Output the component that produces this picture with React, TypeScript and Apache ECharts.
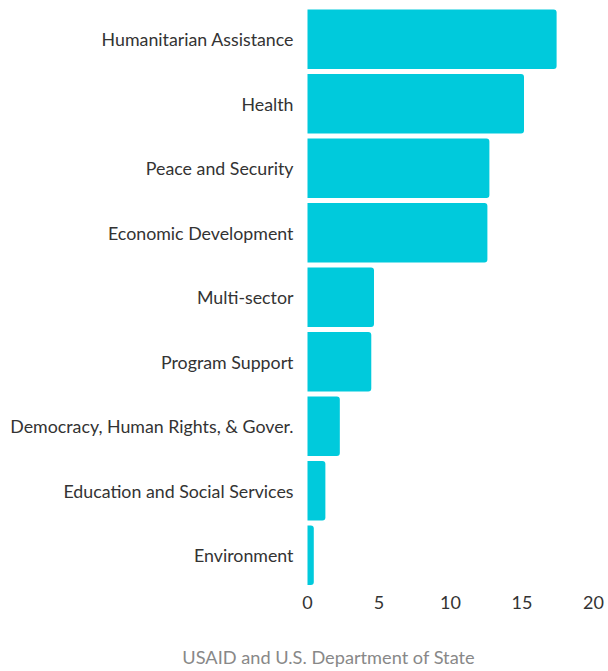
import React, { useEffect, useRef } from "react";
import * as echarts from "echarts";

const categories = [
  "Humanitarian Assistance",
  "Health",
  "Peace and Security",
  "Economic Development",
  "Multi-sector",
  "Program Support",
  "Democracy, Human Rights, & Gover.",
  "Education and Social Services",
  "Environment",
];
const values = [17.42, 15.14, 12.72, 12.58, 4.65, 4.46, 2.26, 1.25, 0.44];
const xTicks = [0, 5, 10, 15, 20];
const sourceLabel = "USAID and U.S. Department of State";

export default function App() {
  const ref = useRef<HTMLDivElement>(null);
  useEffect(() => {
    document.body.style.margin = "0";
    const chart = echarts.init(ref.current!, null, { renderer: "svg" });
    chart.setOption({
      animation: false,
      textStyle: { fontFamily: "Lato" },
      grid: { left: 307.5, right: 14.5, top: 7, bottom: 83.5, containLabel: false },
      xAxis: {
        type: "value",
        min: xTicks[0],
        max: xTicks[xTicks.length - 1],
        interval: 5,
        axisLine: { show: false },
        axisTick: { show: false },
        splitLine: { show: false },
        axisLabel: { color: "#333", fontSize: 18, margin: 5, fontFamily: "Lato" },
      },
      yAxis: {
        type: "category",
        data: categories,
        inverse: true,
        axisLine: { show: false },
        axisTick: { show: false },
        axisLabel: {
          color: "#333",
          fontSize: 17.8,
          margin: 14,
          fontFamily: "Lato",
          padding: [0, 0, 4, 0],
        },
      },
      series: [
        {
          type: "bar",
          data: values,
          barCategoryGap: "8%",
          itemStyle: { color: "#00CADC", borderRadius: [0, 3, 3, 0] },
        },
      ],
      graphic: [
        {
          type: "text",
          x: 328.5,
          y: 657,
          style: {
            text: sourceLabel,
            fill: "#888",
            fontSize: 18.2,
            fontFamily: "Lato",
            align: "center",
            verticalAlign: "middle",
          },
        },
      ],
    });
    return () => chart.dispose();
  }, []);
  return <div ref={ref} style={{ width: 608, height: 671 }} />;
}
